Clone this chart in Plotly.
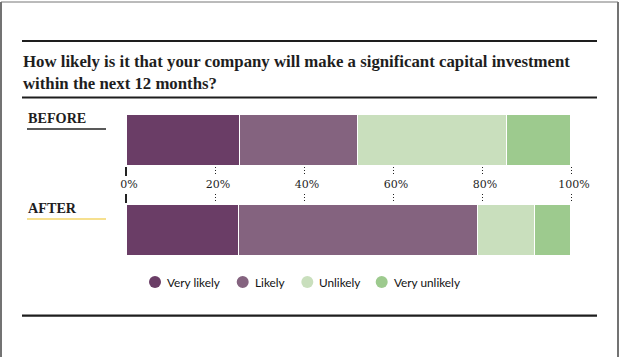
import plotly.graph_objects as go

# ---- data ----
periods = ["BEFORE", "AFTER"]
series_names = ["Very likely", "Likely", "Unlikely", "Very unlikely"]
very_likely = [25.5, 25.3]
likely = [26.5, 53.7]
unlikely = [33.5, 12.8]
very_unlikely = [14.5, 8.2]
tick_vals = [0, 20, 40, 60, 80, 100]
tick_text = ["0%", "20%", "40%", "60%", "80%", "100%"]
title_text = ("How likely is it that your company will make a significant capital investment"
              "<br>within the next 12 months?")

# ---- style ----
W, H = 620, 357
colors = ["#6a3d66", "#84637f", "#c9dfbd", "#9dca8e"]
ink = "#1e1e1e"
serif = "Liberation Serif"
sans = "Lato"

def px(x):
    return x / W

def py(y):
    return 1 - y / H

X0, X100 = 126.0, 571.0
scale = (X100 - X0) / 100.0
xdom = [px(X0 - scale), px(X100 + scale)]
xrng = [-1, 101]

fig = go.Figure()
series_vals = [very_likely, likely, unlikely, very_unlikely]
for name, vals, col in zip(series_names, series_vals, colors):
    fig.add_trace(go.Bar(
        x=vals, y=periods, orientation="h", name=name,
        marker=dict(color=col, line=dict(color="white", width=1.5)),
        showlegend=False, hoverinfo="skip",
    ))

# helper traces for dotted tick bands
fig.add_trace(go.Scatter(x=[None], y=[None], xaxis="x2", yaxis="y2", showlegend=False))
fig.add_trace(go.Scatter(x=[None], y=[None], xaxis="x3", yaxis="y3", showlegend=False))

band_axis = dict(
    domain=xdom, range=xrng, tickvals=tick_vals, ticktext=tick_text,
    showgrid=True, griddash="1px,2px", gridcolor="#222", gridwidth=1.3,
    zeroline=True, zerolinecolor="#222", zerolinewidth=1.5,
    showline=False, ticks="", fixedrange=True, automargin=False,
)

fig.update_layout(
    width=W, height=H, autosize=False,
    margin=dict(l=0, r=0, t=0, b=0, pad=0, autoexpand=False),
    paper_bgcolor="white", plot_bgcolor="rgba(0,0,0,0)",
    barmode="stack", bargap=1 - 52 / 90,
    showlegend=False,
    xaxis=dict(domain=xdom, range=xrng, visible=False, fixedrange=True, automargin=False),
    yaxis=dict(domain=[py(275), py(95)], type="category", range=[1.5, -0.5],
               visible=False, fixedrange=True, automargin=False),
    xaxis2=dict(anchor="y2", showticklabels=True, ticklabelshift=3,
                tickfont=dict(family="DejaVu Serif", size=11, color=ink),
                **band_axis),
    yaxis2=dict(domain=[py(176), py(167)], anchor="x2", visible=False, range=[0, 1],
                automargin=False),
    xaxis3=dict(anchor="y3", showticklabels=False, **band_axis),
    yaxis3=dict(domain=[py(203), py(194)], anchor="x3", visible=False, range=[0, 1],
                automargin=False),
)

shapes = []
annotations = []

# frame
frame = dict(type="line", xref="paper", yref="paper", line=dict(color="#444", width=1.5))
shapes.append(dict(frame, x0=px(1), x1=px(1), y0=py(2), y1=py(H)))
shapes.append(dict(frame, x0=px(618), x1=px(618), y0=py(2), y1=py(H)))
shapes.append(dict(frame, x0=px(1), x1=px(618), y0=py(2), y1=py(2), line=dict(color="#777", width=1)))

# rules
for yy in (41, 97.5, 315.7):
    shapes.append(dict(type="line", xref="paper", yref="paper", x0=px(22), x1=px(597),
                       y0=py(yy), y1=py(yy), line=dict(color=ink, width=2.2)))

# title
annotations.append(dict(text=title_text, xref="paper", yref="paper", x=px(21), y=py(49.5),
                        xanchor="left", yanchor="top", align="left", showarrow=False,
                        font=dict(family=serif, size=16.8, color=ink, weight="bold")))

# period labels with underlines
underline_colors = ["#222", "#f3d66a"]
for cat, ucol in zip(periods, underline_colors):
    annotations.append(dict(text=cat, xref="paper", yref="y", x=px(26), y=cat, yshift=22,
                            xanchor="left", yanchor="middle", showarrow=False,
                            font=dict(family=serif, size=14.2, color=ink, weight="bold")))
    shapes.append(dict(type="line", xref="paper", yref="y", ysizemode="pixel", yanchor=cat,
                       x0=px(27), x1=px(106), y0=11, y1=11, line=dict(color=ucol, width=1.5)))

# legend (manual)
leg_circle_x = [155, 242.7, 307.3, 381.7]
leg_y = 282
for name, col, cx in zip(series_names, colors, leg_circle_x):
    shapes.append(dict(type="circle", xref="paper", yref="paper",
                       xsizemode="pixel", ysizemode="pixel",
                       xanchor=px(cx), yanchor=py(leg_y), x0=-6, x1=6, y0=-6, y1=6,
                       fillcolor=col, line=dict(width=0)))
    annotations.append(dict(text=name, xref="paper", yref="paper", x=px(cx + 10), y=py(leg_y),
                            xanchor="left", yanchor="middle", showarrow=False,
                            font=dict(family=sans, size=11.8, color="#111")))

fig.update_layout(shapes=shapes, annotations=annotations)
fig.write_html(
    "out.html",
    config={"displayModeBar": False, "responsive": False},
    post_script=("document.documentElement.style.overflow='hidden';"
                 "document.body.style.margin='0';document.body.style.overflow='hidden';"),
)
